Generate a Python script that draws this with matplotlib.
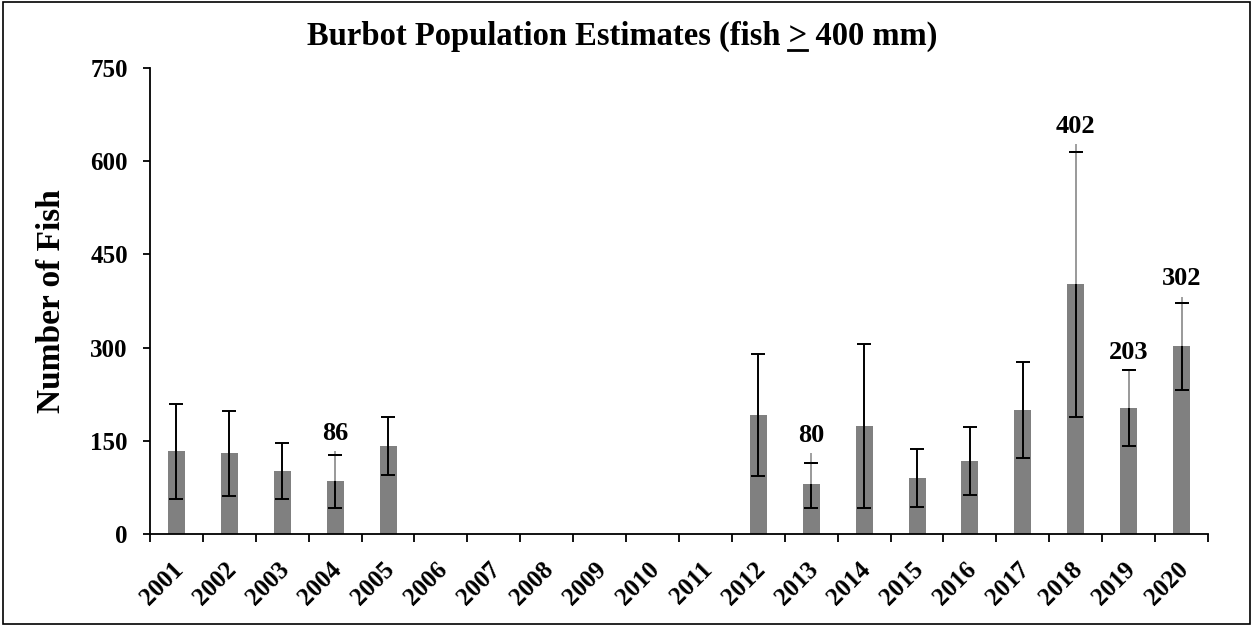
import numpy as np
import matplotlib
matplotlib.use('Agg')
import matplotlib.pyplot as plt
import matplotlib.transforms as mtransforms
from matplotlib.patches import Rectangle

plt.rcParams.update({
    'font.family': 'Liberation Serif',
    'font.weight': 'bold',
})

years = [str(y) for y in range(2001, 2021)]
nan = np.nan
estimate = [133, 130, 101, 86, 142, nan, nan, nan, nan, nan, nan,
            192, 80, 174, 90, 118, 200, 402, 203, 302]
lower_ci = [57, 61, 56, 42, 95, nan, nan, nan, nan, nan, nan,
            94, 42, 42, 44, 63, 123, 189, 141, 232]
upper_ci = [209, 198, 146, 127, 189, nan, nan, nan, nan, nan, nan,
            290, 115, 306, 137, 173, 277, 615, 264, 371]
# second (gray) interval drawn on labelled years
gray_upper = {'2004': 133, '2013': 130, '2018': 628, '2019': 264, '2020': 382}
labelled = {'2004': 86, '2013': 80, '2018': 402, '2019': 203, '2020': 302}

W, H = 1253, 626
fig = plt.figure(figsize=(W / 100, H / 100), dpi=100)
ax = fig.add_axes([150 / W, 1 - 534 / H, 1058 / W, 466 / H])

x = np.arange(len(years))
est = np.array(estimate, dtype=float)
lo = np.array(lower_ci, dtype=float)
hi = np.array(upper_ci, dtype=float)

ax.bar(x, np.nan_to_num(est), width=0.32, color='#808080', zorder=2)

# black error bars
ax.errorbar(x, est, yerr=[est - lo, hi - est], fmt='none', ecolor='black',
            elinewidth=1.4, capsize=5, capthick=1.4, zorder=3)

# gray upper segments for labelled years
for yr, top in gray_upper.items():
    i = years.index(yr)
    ax.plot([x[i], x[i]], [est[i], top], color='#a0a0a0', lw=1.4, zorder=4,
            solid_capstyle='butt')
    ax.plot([x[i] - 0.095, x[i] + 0.095], [hi[i], hi[i]], color='black',
            lw=1.4, zorder=5, solid_capstyle='butt')

for yr, val in labelled.items():
    i = years.index(yr)
    ax.text(x[i], gray_upper[yr] + 10, str(val), ha='center', va='bottom',
            fontsize=19, fontweight='bold')

ax.set_xlim(-0.5, len(years) - 0.5)
ax.set_ylim(0, 750)
ax.set_yticks([0, 150, 300, 450, 600, 750])
ax.tick_params(axis='y', labelsize=18, length=5, width=1.3, direction='out',
               pad=11)
ax.set_xticks(x)
ax.set_xticklabels(years, rotation=45, ha='right', rotation_mode='anchor',
                   fontsize=18)
ax.tick_params(axis='x', length=0, pad=17)
ax.set_xticks(np.arange(-0.5, len(years)), minor=True)
ax.tick_params(axis='x', which='minor', length=6, width=1.3, direction='out')
shift = mtransforms.ScaledTranslation(-5 / 100, 0, fig.dpi_scale_trans)
for lab in ax.get_xticklabels():
    lab.set_transform(lab.get_transform() + shift)

for s in ['top', 'right']:
    ax.spines[s].set_visible(False)
for s in ['left', 'bottom']:
    ax.spines[s].set_linewidth(1.3)

ax.set_ylabel('Number of Fish', fontsize=24, fontweight='bold', va='center')
ax.yaxis.set_label_coords((51 - 150) / 1058, 0.5)

# title with underlined ">"
title = 'Burbot Population Estimates (fish > 400 mm)'
prefix = 'Burbot Population Estimates (fish '
t = fig.text(622 / W, 1 - 36 / H, title, ha='center', va='center',
             fontsize=23.5, fontweight='bold')
fig.canvas.draw()
r = fig.canvas.get_renderer()
bb = t.get_window_extent(r)
tmp = fig.text(0, 0, prefix, fontsize=23.5, fontweight='bold')
w_pre = tmp.get_window_extent(r).width
tmp.remove()
tmp = fig.text(0, 0, '>', fontsize=23.5, fontweight='bold')
w_gt = tmp.get_window_extent(r).width
tmp.remove()
x0 = bb.x0 + w_pre
uy = bb.y0 + 2
fig.add_artist(plt.Line2D([x0 / W, (x0 + w_gt) / W], [uy / H, uy / H],
                          color='black', lw=2, transform=fig.transFigure))

fig.add_artist(Rectangle((0.002, 0.003), 0.996, 0.994, fill=False,
                         edgecolor='black', lw=1.2,
                         transform=fig.transFigure))

fig.savefig('out.png', dpi=100)
